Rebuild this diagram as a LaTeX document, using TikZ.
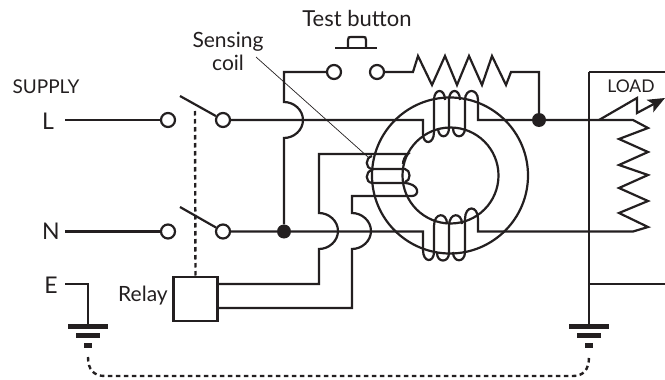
\documentclass[tikz,border=0pt]{standalone}
\usepackage{fontspec}
\setmainfont{Lato}
\usepackage{xcolor}
\usetikzlibrary{arrows.meta}
\definecolor{ink}{HTML}{231F20}
\tikzset{
  wire/.style = {draw=ink, line width=2.2pt, line join=miter},
  thin wire/.style = {draw=ink, line width=0.7pt},
  link/.style = {draw=ink, line width=2.4pt, dash pattern=on 4.5pt off 3.5pt},
  term/.style = {draw=ink, line width=2.2pt, circle, fill=white, inner sep=0pt, minimum size=14pt},
  junct/.style = {circle, fill=ink, inner sep=0pt, minimum size=14pt},
  ring/.style = {draw=ink, line width=2.2pt, circle, inner sep=0pt},
  bar/.style = {draw=ink, line width=5pt},
  lbl/.style = {text=ink, align=center, inner sep=0pt, font=\fontsize{21}{23}\selectfont}
}
\begin{document}
\begin{tikzpicture}[x=1pt,y=-1pt]
\useasboundingbox (0,0) rectangle (665,380);
% labels
\node [lbl, font=\fontsize{22}{24}\selectfont] (test) at (357,18) {Test button};
\node [lbl] (sense) at (228,51) {Sensing\\coil};
\node [lbl, font=\fontsize{19}{21}\selectfont] (supply) at (46,87) {SUPPLY};
\node [lbl, font=\fontsize{23}{25}\selectfont] (l) at (48,121) {L};
\node [lbl, font=\fontsize{23}{25}\selectfont] (n) at (51,231) {N};
\node [lbl, font=\fontsize{23}{25}\selectfont] (e) at (51,285) {E};
\node [lbl] (rel) at (143,296) {Relay};
\node [lbl, font=\fontsize{17.5}{19}\selectfont] (load) at (631,86) {LOAD};
% toroid
\node [ring, minimum size=156pt] (outer) at (450,175.5) {};
\node [ring, minimum size=96pt] (inner) at (450.5,175.5) {};
% terminals and junctions
\node [term] (l_in) at (168,120) {};
\node [term] (l_out) at (223,120) {};
\node [term] (n_in) at (168,231.5) {};
\node [term] (n_out) at (223,231.5) {};
\node [term] (t_a) at (334,72) {};
\node [term] (t_b) at (377,72) {};
\node [junct] (j_top) at (539,120) {};
\node [junct] (j_n) at (284,231.5) {};
\node [draw=ink, line width=2.2pt, minimum size=44pt, inner sep=0pt] (relay) at (195.5,299) {};
\coordinate (l_start) at (65,120);
\coordinate (n_start) at (65,231.5);
\coordinate (e_start) at (65,284);
\coordinate (l_arm) at (180,96);
\coordinate (n_arm) at (180,207);
\coordinate (gnd_a) at (88,326);
\coordinate (gnd_b) at (589,326);
\coordinate (r1) at (218,284);
\coordinate (r2) at (218,308);
% supply side
\draw [wire] (l_start) -- (l_in);
\draw [wire] (n_start) -- (n_in);
\draw [wire] (l_arm) -- (l_out);
\draw [wire] (n_arm) -- (n_out);
\draw [wire] (e_start) -| (gnd_a);
\draw [link] (195,111) -- (relay.north);
% line through the top coil
\draw [wire] (l_out) -- (423,120) -- (423,134)
  .. controls (423,145) and (434,145) .. (434,132) -- (434,100)
  .. controls (434,88) and (445,88) .. (445,100);
\draw [wire] (438,128) .. controls (438,139) and (449,139) .. (449,128) -- (449,100)
  .. controls (449,88) and (460,88) .. (460,100);
\draw [wire] (453,128) .. controls (453,139) and (465,139) .. (465,128) -- (465,100)
  .. controls (465,88) and (478,88) .. (478,100) -- (478,120) -- (j_top);
\draw [wire] (j_top) -- (633,120) -- (648,128) -- (619,139) -- (648,152) -- (619,165)
  -- (648,175) -- (619,188) -- (648,201) -- (619,213) -- (648,227) -- (633,231.5) -- (478,231.5)
  -- (478,219) .. controls (478,205) and (465,205) .. (465,219) -- (465,252)
  .. controls (465,263) and (453,263) .. (453,252);
% neutral through the bottom coil
\draw [wire] (n_out) -- (j_n) -- (423,231.5) -- (423,250)
  .. controls (423,263) and (434,263) .. (434,252) -- (434,226)
  .. controls (434,212) and (447,212) .. (447,224);
\draw [wire] (437,253) .. controls (437,263) and (449,263) .. (449,253) -- (449,226)
  .. controls (449,212) and (462,212) .. (462,224);
% test circuit
\draw [wire] (j_n) -- (284,138) .. controls (294,138) and (303,130) .. (303,120)
  .. controls (303,110) and (294,102) .. (284,102) |- (t_a);
\draw [wire] (t_b) -- (413,72) -- (418,56) -- (432,85) -- (445,56) -- (457,85) -- (469,56)
  -- (482,85) -- (492,56) -- (506,85) -- (511,72) -- (539,72) -- (j_top);
% button
\draw [wire] (335,48) -- (377,48);
\draw [wire] (348,48) -- (348,40) .. controls (348,37) and (349,37) .. (351,37) -- (363,37)
  .. controls (365,37) and (366,37) .. (366,40) -- (366,48);
% sensing coil and relay wires
\draw [wire] (r1) -- (319,284) -- (319,249) .. controls (329,249) and (338,241) .. (338,231)
  .. controls (338,221) and (329,213) .. (319,213) -- (319,154) -- (408,154)
  .. controls (405,156) and (403,160) .. (403,164);
\draw [wire] (r2) -- (352,308) -- (352,249) .. controls (362,249) and (371,241) .. (371,231)
  .. controls (371,221) and (362,213) .. (352,213) -- (352,196) -- (412,196)
  .. controls (420,196) and (420,183) .. (403,183) -- (372,183)
  .. controls (365,182) and (365,172) .. (372,170) -- (372,169) -- (405,169)
  .. controls (411,170) and (411,181) .. (405,182);
\draw [wire] (372,156) .. controls (365,158) and (365,168) .. (372,169);
\draw [thin wire] (256,57) -- (368,157);
% load side
\draw [wire] (589,72) -- (665,72);
\draw [wire] (589,284) -- (665,284);
\draw [wire] (589,72) -- (gnd_b);
\draw [wire, -{Stealth[length=17pt,width=14pt,inset=4pt]}] (599,120) -- (637,98) -- (637,113) -- (665,98);
% earth
\foreach \gx in {88,589} {
  \draw [bar] (\gx-20,326) -- (\gx+20,326);
  \draw [bar] (\gx-12,335) -- (\gx+12,335);
  \draw [bar] (\gx-4,345) -- (\gx+4,345);
}
\draw [link] (88,357) .. controls (88,370) and (94,376) .. (105,376) -- (573,376)
  .. controls (583,376) and (589,370) .. (589,357);
\end{tikzpicture}
\end{document}
